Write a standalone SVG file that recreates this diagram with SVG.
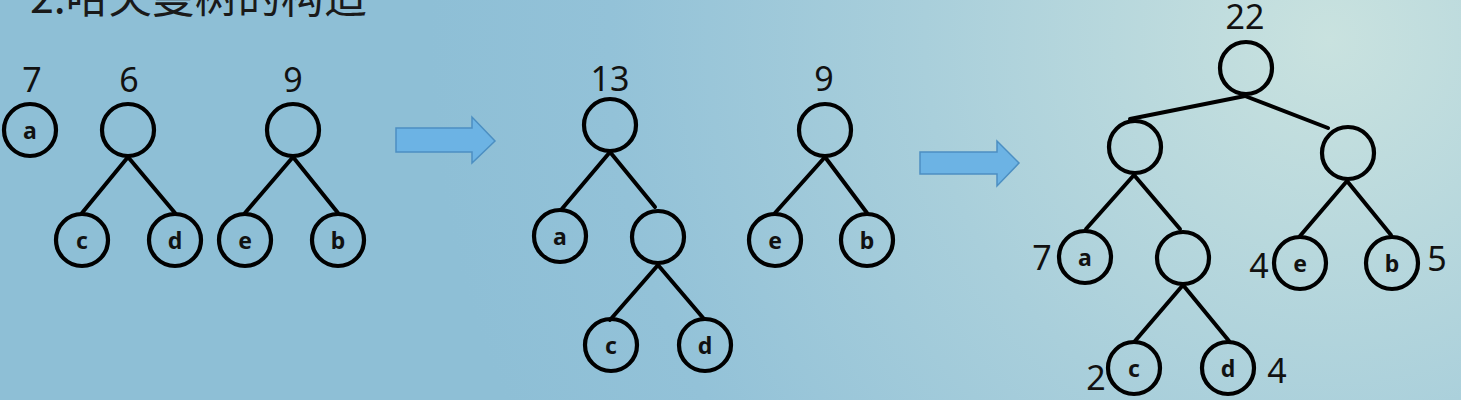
<svg xmlns="http://www.w3.org/2000/svg" width="1461" height="400" viewBox="0 0 1461 400">
<defs>
<radialGradient id="bg" gradientUnits="userSpaceOnUse" cx="1330" cy="40" r="900">
<stop offset="0" stop-color="#c9e2df"/>
<stop offset="0.45" stop-color="#a9cfdb"/>
<stop offset="0.8" stop-color="#93c2d8"/>
<stop offset="1" stop-color="#8ebfd6"/>
</radialGradient>
<style>
.n{fill:none;stroke:#000;stroke-width:4.2}
.e{stroke:#000;stroke-width:4;stroke-linecap:round}
.l{font-family:"Noto Sans","Open Sans",sans-serif;font-weight:bold;font-size:23px;text-anchor:middle;fill:#111}
.w{font-family:"Noto Sans","Open Sans",sans-serif;font-size:34px;text-anchor:middle;fill:#111}
.arr{fill:#6cb3e4;stroke:#4c8fc2;stroke-width:1.5}
</style>
</defs>
<rect width="1461" height="400" fill="url(#bg)"/>
<text x="30" y="13" font-family="'Noto Sans CJK SC',sans-serif" font-size="43" fill="#1a1a1a">2.哈夫曼树的构造</text>

<g id="connectors">
<line class="e" x1="128" y1="157" x2="82" y2="213"/>
<line class="e" x1="128" y1="157" x2="175" y2="213"/>
<line class="e" x1="293" y1="157" x2="245" y2="213"/>
<line class="e" x1="293" y1="157" x2="338" y2="213"/>
<line class="e" x1="610" y1="152" x2="561" y2="210"/>
<line class="e" x1="610" y1="152" x2="655" y2="207"/>
<line class="e" x1="658" y1="265" x2="610" y2="320"/>
<line class="e" x1="658" y1="265" x2="704" y2="319"/>
<line class="e" x1="825" y1="157" x2="775" y2="213"/>
<line class="e" x1="825" y1="157" x2="867" y2="213"/>
<line class="e" x1="1245" y1="96" x2="1130" y2="119"/>
<line class="e" x1="1245" y1="96" x2="1328" y2="128"/>
<line class="e" x1="1134" y1="175" x2="1086" y2="229"/>
<line class="e" x1="1134" y1="175" x2="1180" y2="229"/>
<line class="e" x1="1183" y1="285" x2="1135" y2="341"/>
<line class="e" x1="1183" y1="285" x2="1229" y2="341"/>
<line class="e" x1="1347" y1="181" x2="1300" y2="236"/>
<line class="e" x1="1347" y1="181" x2="1391" y2="235"/>
</g>

<g id="arrow1"><path class="arr" d="M396,128 H472 V117 L495,141 L472,163 V152 H396 Z"/></g>
<g id="arrow2"><path class="arr" d="M920,152 H997 V141 L1019,163 L997,186 V174 H920 Z"/></g>

<g id="p1-a"><circle class="n" cx="30" cy="130" r="26"/><text class="l" x="30" y="139">a</text><text class="w" x="32" y="92">7</text></g>
<g id="p1-r6"><circle class="n" cx="128" cy="130" r="26"/><text class="w" x="129" y="92">6</text></g>
<g id="p1-c"><circle class="n" cx="82" cy="240" r="26"/><text class="l" x="82" y="249">c</text></g>
<g id="p1-d"><circle class="n" cx="175" cy="240" r="26"/><text class="l" x="175" y="249">d</text></g>
<g id="p1-r9"><circle class="n" cx="293" cy="130" r="26"/><text class="w" x="293" y="92">9</text></g>
<g id="p1-e"><circle class="n" cx="245" cy="240" r="26"/><text class="l" x="245" y="249">e</text></g>
<g id="p1-b"><circle class="n" cx="338" cy="240" r="26"/><text class="l" x="338" y="249">b</text></g>

<g id="p2-r13"><circle class="n" cx="610" cy="125" r="26"/><text class="w" x="610" y="91">13</text></g>
<g id="p2-a"><circle class="n" cx="560" cy="236" r="26"/><text class="l" x="560" y="245">a</text></g>
<g id="p2-i"><circle class="n" cx="658" cy="237" r="26"/></g>
<g id="p2-c"><circle class="n" cx="611" cy="345" r="26"/><text class="l" x="611" y="354">c</text></g>
<g id="p2-d"><circle class="n" cx="705" cy="345" r="26"/><text class="l" x="705" y="354">d</text></g>
<g id="p2-r9"><circle class="n" cx="825" cy="130" r="26"/><text class="w" x="824" y="91">9</text></g>
<g id="p2-e"><circle class="n" cx="775" cy="240" r="26"/><text class="l" x="775" y="249">e</text></g>
<g id="p2-b"><circle class="n" cx="867" cy="240" r="26"/><text class="l" x="867" y="249">b</text></g>

<g id="p3-r22"><circle class="n" cx="1246" cy="68" r="26"/><text class="w" x="1245" y="29">22</text></g>
<g id="p3-l"><circle class="n" cx="1135" cy="147" r="26"/></g>
<g id="p3-r"><circle class="n" cx="1348" cy="153" r="26"/></g>
<g id="p3-a"><circle class="n" cx="1085" cy="257" r="26"/><text class="l" x="1085" y="266">a</text><text class="w" x="1042" y="270">7</text></g>
<g id="p3-i"><circle class="n" cx="1183" cy="258" r="26"/></g>
<g id="p3-c"><circle class="n" cx="1134" cy="368" r="26"/><text class="l" x="1134" y="377">c</text><text class="w" x="1096" y="390">2</text></g>
<g id="p3-d"><circle class="n" cx="1228" cy="368" r="26"/><text class="l" x="1228" y="377">d</text><text class="w" x="1277" y="383">4</text></g>
<g id="p3-e"><circle class="n" cx="1300" cy="263" r="26"/><text class="l" x="1300" y="272">e</text><text class="w" x="1259" y="278">4</text></g>
<g id="p3-b"><circle class="n" cx="1392" cy="263" r="26"/><text class="l" x="1392" y="272">b</text><text class="w" x="1437" y="271">5</text></g>
</svg>
